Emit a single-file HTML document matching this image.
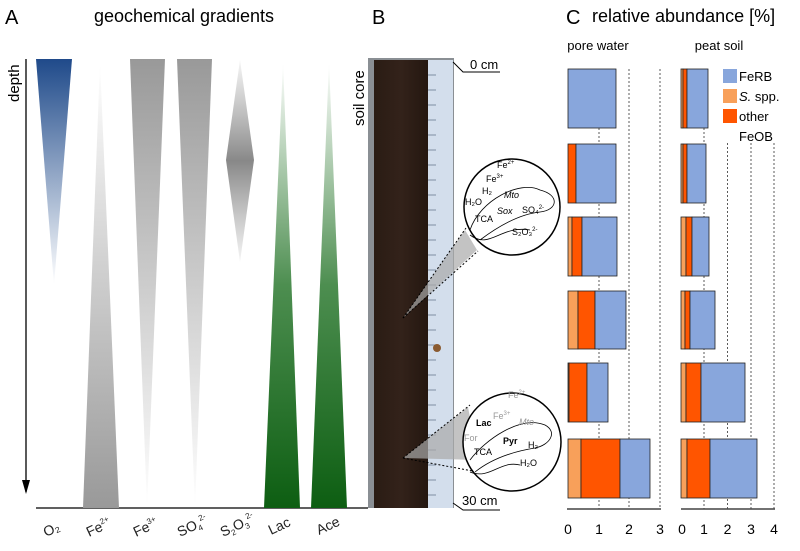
<!DOCTYPE html>
<html><head><meta charset="utf-8"><style>
html,body{margin:0;padding:0;background:#fff}
svg{display:block;font-family:"Liberation Sans",Arial,sans-serif}
</style></head><body>
<svg width="800" height="551" viewBox="0 0 800 551" xmlns="http://www.w3.org/2000/svg">
<defs>
<linearGradient id="gO" x1="0" y1="0" x2="0" y2="1"><stop offset="0" stop-color="#1f4a8a"/><stop offset="1" stop-color="#1f4a8a" stop-opacity="0"/></linearGradient>
<linearGradient id="gUp" x1="0" y1="1" x2="0" y2="0"><stop offset="0" stop-color="#999"/><stop offset="1" stop-color="#999" stop-opacity="0"/></linearGradient>
<linearGradient id="gDn" x1="0" y1="0" x2="0" y2="1"><stop offset="0" stop-color="#999"/><stop offset="1" stop-color="#999" stop-opacity="0"/></linearGradient>
<linearGradient id="gGr" x1="0" y1="1" x2="0" y2="0"><stop offset="0" stop-color="#0d5e12"/><stop offset="0.5" stop-color="#4d8e50"/><stop offset="1" stop-color="#4d8e50" stop-opacity="0"/></linearGradient>
<linearGradient id="gDi" x1="0" y1="0" x2="0" y2="1"><stop offset="0" stop-color="#999" stop-opacity="0.1"/><stop offset="0.5" stop-color="#888"/><stop offset="1" stop-color="#999" stop-opacity="0.1"/></linearGradient>
<linearGradient id="soil" x1="0" y1="0" x2="1" y2="0"><stop offset="0" stop-color="#2a1c14"/><stop offset="0.5" stop-color="#33221a"/><stop offset="1" stop-color="#241710"/></linearGradient>
</defs>
<text x="5" y="24" font-size="20">A</text>
<text x="184" y="22" font-size="18" text-anchor="middle">geochemical gradients</text>
<text x="372" y="24" font-size="20">B</text>
<text x="566" y="24" font-size="20">C</text>
<text x="592" y="22" font-size="18">relative abundance [%]</text>
<text transform="translate(19,102) rotate(-90)" font-size="15">depth</text>
<line x1="26" y1="59" x2="26" y2="492" stroke="#000" stroke-width="1.3"/>
<polygon points="22,480 30,480 26,494" fill="#000"/>
<line x1="36" y1="508" x2="368" y2="508" stroke="#000" stroke-width="1.3"/>
<polygon points="36,59 72,59 54,285" fill="url(#gO)"/>
<polygon points="100,62 119,508 83,508" fill="url(#gUp)"/>
<polygon points="130,59 165,59 147,508" fill="url(#gDn)"/>
<polygon points="177,59 212,59 195,508" fill="url(#gDn)"/>
<polygon points="240,60 254,160 240,262 226,160" fill="url(#gDi)"/>
<polygon points="283,62 300,508 264,508" fill="url(#gGr)"/>
<polygon points="329,62 347,508 311,508" fill="url(#gGr)"/>
<g font-size="14" fill="#222">
<text transform="translate(46,537) rotate(-25)">O₂</text>
<text transform="translate(89,537) rotate(-25)">Fe<tspan font-size="8" dy="-6">2+</tspan></text>
<text transform="translate(136,537) rotate(-25)">Fe<tspan font-size="8" dy="-6">3+</tspan></text>
<text transform="translate(180,537) rotate(-25)">SO<tspan font-size="8" dy="3">4</tspan><tspan font-size="8" dy="-9">2-</tspan></text>
<text transform="translate(223,537) rotate(-25)">S<tspan font-size="8" dy="3">2</tspan><tspan dy="-3">O</tspan><tspan font-size="8" dy="3">3</tspan><tspan font-size="8" dy="-9">2-</tspan></text>
<text transform="translate(271,535) rotate(-25)">Lac</text>
<text transform="translate(319,535) rotate(-25)">Ace</text>
</g>
<text transform="translate(364,126) rotate(-90)" font-size="15">soil core</text>
<rect x="368" y="58" width="86" height="450" fill="#8a8f94"/>
<rect x="374" y="60" width="54" height="448" fill="url(#soil)"/>
<rect x="428" y="60" width="25" height="448" fill="#d3deec"/>
<g stroke="#6a7a90" stroke-width="0.8">
<line x1="428" y1="75" x2="436" y2="75"/><line x1="428" y1="90" x2="436" y2="90"/><line x1="428" y1="105" x2="436" y2="105"/><line x1="428" y1="120" x2="436" y2="120"/><line x1="428" y1="135" x2="436" y2="135"/><line x1="428" y1="150" x2="436" y2="150"/><line x1="428" y1="165" x2="436" y2="165"/><line x1="428" y1="180" x2="436" y2="180"/><line x1="428" y1="195" x2="436" y2="195"/><line x1="428" y1="210" x2="436" y2="210"/><line x1="428" y1="225" x2="436" y2="225"/><line x1="428" y1="240" x2="436" y2="240"/><line x1="428" y1="255" x2="436" y2="255"/><line x1="428" y1="270" x2="436" y2="270"/><line x1="428" y1="285" x2="436" y2="285"/><line x1="428" y1="300" x2="436" y2="300"/><line x1="428" y1="315" x2="436" y2="315"/><line x1="428" y1="330" x2="436" y2="330"/><line x1="428" y1="345" x2="436" y2="345"/><line x1="428" y1="360" x2="436" y2="360"/><line x1="428" y1="375" x2="436" y2="375"/><line x1="428" y1="390" x2="436" y2="390"/><line x1="428" y1="405" x2="436" y2="405"/><line x1="428" y1="420" x2="436" y2="420"/><line x1="428" y1="435" x2="436" y2="435"/><line x1="428" y1="450" x2="436" y2="450"/><line x1="428" y1="465" x2="436" y2="465"/><line x1="428" y1="480" x2="436" y2="480"/><line x1="428" y1="495" x2="436" y2="495"/>
</g>
<circle cx="437" cy="348" r="4" fill="#8a5a30"/>
<polyline points="453,62 463,72 500,72" fill="none" stroke="#000"/>
<text x="470" y="69" font-size="13">0 cm</text>
<polyline points="453,503 463,510 500,510" fill="none" stroke="#000"/>
<text x="462" y="505" font-size="13">30 cm</text>
<polygon points="403,318 465,230 477,250" fill="#aaa" opacity="0.7"/>
<line x1="403" y1="318" x2="466" y2="228" stroke="#000" stroke-dasharray="2,2"/>
<line x1="403" y1="318" x2="478" y2="251" stroke="#000" stroke-dasharray="2,2"/>
<polygon points="403,458 468,407 478,460" fill="#aaa" opacity="0.7"/>
<line x1="403" y1="458" x2="470" y2="405" stroke="#000" stroke-dasharray="2,2"/>
<line x1="403" y1="458" x2="478" y2="472" stroke="#000" stroke-dasharray="2,2"/>
<circle cx="512" cy="207" r="48" fill="#fff" stroke="#000" stroke-width="1.5"/>
<path d="M470,230 C480,200 520,180 540,190 C560,195 558,210 540,212 C520,214 500,225 480,240 M470,235 C490,250 500,225 530,230" fill="none" stroke="#000" stroke-width="0.8"/>
<g font-size="9"><text x="497" y="168">Fe<tspan font-size="6" dy="-4">2+</tspan></text><text x="486" y="182">Fe<tspan font-size="6" dy="-4">3+</tspan></text><text x="482" y="194">H₂</text><text x="465" y="205">H₂O</text><text x="504" y="198" font-style="italic">Mto</text><text x="497" y="214" font-style="italic">Sox</text><text x="522" y="213">SO₄<tspan font-size="6" dy="-4">2-</tspan></text><text x="475" y="222">TCA</text><text x="512" y="235">S₂O₃<tspan font-size="6" dy="-4">2-</tspan></text></g>
<circle cx="512" cy="442" r="49" fill="#fff" stroke="#000" stroke-width="1.5"/>
<path d="M470,460 C485,440 520,415 545,425 C558,432 550,445 535,448 C510,452 490,460 475,472 M470,472 C490,480 500,460 520,465" fill="none" stroke="#000" stroke-width="0.8"/>
<g font-size="9"><text x="508" y="398" fill="#999">Fe<tspan font-size="6" dy="-4">2+</tspan></text><text x="493" y="419" fill="#999">Fe<tspan font-size="6" dy="-4">3+</tspan></text><text x="476" y="426" font-weight="bold">Lac</text><text x="519" y="425" fill="#999" font-style="italic">Mto</text><text x="464" y="441" fill="#999">For</text><text x="503" y="444" font-weight="bold">Pyr</text><text x="528" y="448">H₂</text><text x="474" y="455">TCA</text><text x="520" y="466">H₂O</text></g>
<text x="598" y="50" font-size="13" text-anchor="middle">pore water</text>
<text x="719" y="50" font-size="13" text-anchor="middle">peat soil</text>
<g stroke="#333" stroke-width="0.8" stroke-dasharray="2,2">
<line x1="599" y1="128" x2="599" y2="509"/><line x1="629" y1="69" x2="629" y2="509"/><line x1="660" y1="69" x2="660" y2="509"/>
<line x1="704" y1="128" x2="704" y2="509"/><line x1="727.5" y1="143" x2="727.5" y2="509"/><line x1="751" y1="143" x2="751" y2="509"/><line x1="774" y1="143" x2="774" y2="509"/>
</g>
<g stroke="#222" stroke-width="0.8">
<rect x="568" y="69" width="48" height="59" fill="#88a6dc"/>
<rect x="568" y="144" width="8" height="59" fill="#ff5500"/><rect x="576" y="144" width="40" height="59" fill="#88a6dc"/>
<rect x="568" y="217" width="4" height="59" fill="#f8a05a"/><rect x="572" y="217" width="10" height="59" fill="#ff5500"/><rect x="582" y="217" width="35" height="59" fill="#88a6dc"/>
<rect x="568" y="291" width="10" height="58" fill="#f8a05a"/><rect x="578" y="291" width="17" height="58" fill="#ff5500"/><rect x="595" y="291" width="31" height="58" fill="#88a6dc"/>
<rect x="568" y="363" width="1" height="59" fill="#f8a05a"/><rect x="569" y="363" width="18" height="59" fill="#ff5500"/><rect x="587" y="363" width="21" height="59" fill="#88a6dc"/>
<rect x="568" y="439" width="13" height="59" fill="#f8a05a"/><rect x="581" y="439" width="39" height="59" fill="#ff5500"/><rect x="620" y="439" width="30" height="59" fill="#88a6dc"/>
<rect x="681" y="69" width="2" height="59" fill="#f8a05a"/><rect x="683" y="69" width="4" height="59" fill="#ff5500"/><rect x="687" y="69" width="21" height="59" fill="#88a6dc"/>
<rect x="681" y="144" width="2" height="59" fill="#f8a05a"/><rect x="683" y="144" width="4" height="59" fill="#ff5500"/><rect x="687" y="144" width="19" height="59" fill="#88a6dc"/>
<rect x="681" y="217" width="5" height="59" fill="#f8a05a"/><rect x="686" y="217" width="6" height="59" fill="#ff5500"/><rect x="692" y="217" width="17" height="59" fill="#88a6dc"/>
<rect x="681" y="291" width="4" height="58" fill="#f8a05a"/><rect x="685" y="291" width="5" height="58" fill="#ff5500"/><rect x="690" y="291" width="25" height="58" fill="#88a6dc"/>
<rect x="681" y="363" width="5" height="59" fill="#f8a05a"/><rect x="686" y="363" width="15" height="59" fill="#ff5500"/><rect x="701" y="363" width="44" height="59" fill="#88a6dc"/>
<rect x="681" y="439" width="6" height="59" fill="#f8a05a"/><rect x="687" y="439" width="23" height="59" fill="#ff5500"/><rect x="710" y="439" width="47" height="59" fill="#88a6dc"/>
</g>
<line x1="567" y1="509" x2="661" y2="509" stroke="#444" stroke-width="1.5"/>
<line x1="681" y1="509" x2="775" y2="509" stroke="#444" stroke-width="1.5"/>
<g font-size="14" text-anchor="middle"><text x="568" y="534">0</text><text x="599" y="534">1</text><text x="629" y="534">2</text><text x="660" y="534">3</text><text x="682" y="534">0</text><text x="704" y="534">1</text><text x="727.5" y="534">2</text><text x="751" y="534">3</text><text x="774" y="534">4</text></g>
<rect x="723" y="69" width="14" height="14" fill="#88a6dc"/>
<rect x="723" y="89" width="14" height="14" fill="#f8a05a"/>
<rect x="723" y="109" width="14" height="14" fill="#ff5500"/>
<g font-size="13"><text x="739" y="81">FeRB</text><text x="739" y="101"><tspan font-style="italic">S.</tspan> spp.</text><text x="739" y="121">other</text><text x="739" y="141">FeOB</text></g>
</svg>
</body></html>
